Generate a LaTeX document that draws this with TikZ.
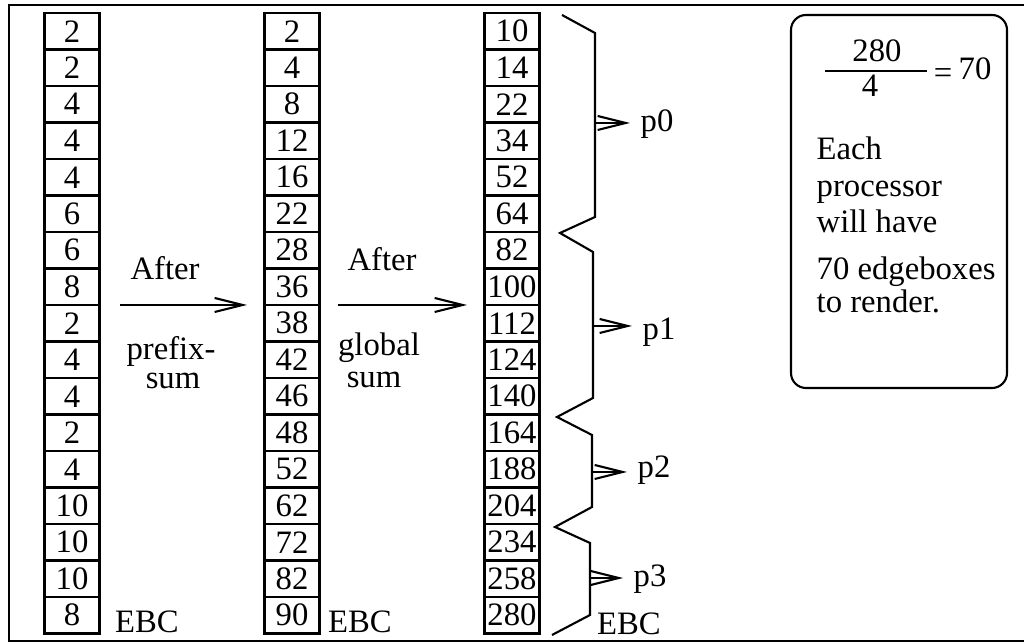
\documentclass[tikz,border=0pt]{standalone}
\usepackage{fontspec}
\setmainfont{Liberation Serif}
\usetikzlibrary{arrows.meta}
\begin{document}
\begin{tikzpicture}[x=0.1mm,y=-0.1mm,
  cell/.style={draw, line width=0.6pt, minimum width=5.5mm, minimum height=3.65mm, inner sep=0pt, font=\fontsize{9.3}{11}\selectfont},
  lbl/.style={inner sep=0pt, font=\fontsize{9.3}{11}\selectfont},
  plbl/.style={inner sep=0pt, inner xsep=1mm, font=\fontsize{9.3}{11}\selectfont, anchor=base west},
  arr/.style={-{Straight Barb[length=2.8mm,width=1.4mm]}, line width=0.6pt},
  brace/.style={line width=0.6pt, line join=miter},
  infobox/.style={draw, line width=0.6pt, rounded corners=1.5mm, minimum width=21.6mm, minimum height=37.3mm, inner sep=0pt}]
\useasboundingbox (0,0) rectangle (1024,644);
% outer frame
\draw[line width=0.6pt] (1030,5) -- (9,5) -- (9,641) -- (1030,641);

% columns
\foreach \v [count=\i from 0] in {2,2,4,4,4,6,6,8,2,4,4,2,4,10,10,10,8}
  \node[cell] (a\i) at (72,{31.25+36.5*\i}) {\v};
\foreach \v [count=\i from 0] in {2,4,8,12,16,22,28,36,38,42,46,48,52,62,72,82,90}
  \node[cell] (b\i) at (292,{31.25+36.5*\i}) {\v};
\foreach \v [count=\i from 0] in {10,14,22,34,52,64,82,100,112,124,140,164,188,204,234,258,280}
  \node[cell] (c\i) at (512,{31.25+36.5*\i}) {\v};

% EBC labels
\node[lbl, anchor=base] (e1) at (147,633) {EBC};
\node[lbl, anchor=base] (e2) at (360,633) {EBC};
\node[lbl, anchor=base] (e3) at (629,635) {EBC};

% transition arrows and labels
\coordinate (s1) at (120,305);
\coordinate (t1) at (247,305);
\draw[arr] (s1) -- (t1);
\node[lbl] (after1) at (165,268) {After};
\node[lbl] (prefix) at (171,351) {prefix-};
\node[lbl] (sum1) at (173,381) {sum};

\coordinate (s2) at (338,305);
\coordinate (t2) at (467,305);
\draw[arr] (s2) -- (t2);
\node[lbl] (after2) at (382,259) {After};
\node[lbl] (global) at (379,348) {global};
\node[lbl] (sum2) at (374,380) {sum};

% braces
\coordinate (k0) at (562,15);
\coordinate (k1) at (595,33);
\coordinate (k2) at (595,217);
\coordinate (k3) at (560,233);
\coordinate (k4) at (593,252);
\coordinate (k5) at (593,398);
\coordinate (k6) at (557,417);
\coordinate (k7) at (592,435);
\coordinate (k8) at (592,507);
\coordinate (k9) at (555,527);
\coordinate (k10) at (590,543);
\coordinate (k11) at (590,615);
\coordinate (k12) at (552,635);
\draw[brace] (k0) -- (k1) -- (k2) -- (k3) -- (k4) -- (k5) -- (k6) -- (k7) -- (k8) -- (k9) -- (k10) -- (k11) -- (k12);

% processor labels
\node[plbl] (p0) at (630,132) {p0};
\node[plbl] (p1) at (632,340) {p1};
\node[plbl] (p2) at (627,478) {p2};
\node[plbl] (p3) at (623,587) {p3};
\coordinate (q0) at (595,123);
\coordinate (q1) at (593,326);
\coordinate (q2) at (592,472);
\coordinate (q3) at (590,578);
\draw[arr] (q0) -- (q0 -| p0.west);
\draw[arr] (q1) -- (q1 -| p1.west);
\draw[arr] (q2) -- (q2 -| p2.west);
\draw[arr] (q3) -- (q3 -| p3.west);

% info box
\node[infobox] (info) at (899,201.5) {};
\node[lbl, anchor=base] (num) at (877,62) {280};
\node[lbl, anchor=base] (den) at (870,97) {4};
\coordinate (f0) at (825,71);
\coordinate (f1) at (927,71);
\draw[line width=0.6pt] (f0) -- (f1);
\node[lbl] (eq) at (943,76) {=};
\node[lbl, anchor=base west] (res) at (958,80) {70};
\node[lbl, anchor=base west] (t1a) at (816,160) {Each};
\node[lbl, anchor=base west] (t2a) at (816,197) {processor};
\node[lbl, anchor=base west] (t3a) at (816,233) {will have};
\node[lbl, anchor=base west] (t4a) at (816,280) {70 edgeboxes};
\node[lbl, anchor=base west] (t5a) at (816,313) {to render.};
\end{tikzpicture}
\end{document}
